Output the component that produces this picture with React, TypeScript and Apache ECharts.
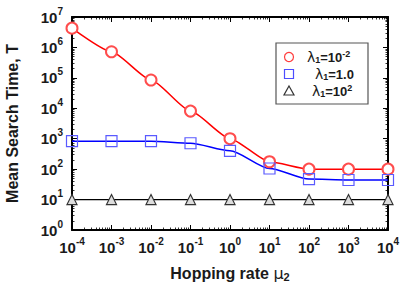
import React, { useEffect, useRef } from "react";
import * as echarts from "echarts";

const hoppingRates = [1e-4, 1e-3, 1e-2, 1e-1, 1e0, 1e1, 1e2, 1e3, 1e4];
const timeLambdaSmall = [4.3e6, 7.2e5, 8.5e4, 8.1e3, 1000, 175, 100, 100, 100];
const timeLambdaOne = [830, 830, 830, 710, 400, 105, 47, 44, 44];
const timeLambdaLarge = [10, 10, 10, 10, 10, 10, 10, 10, 10];
const xTickExponents = [-4, -3, -2, -1, 0, 1, 2, 3, 4];
const yTickExponents = [0, 1, 2, 3, 4, 5, 6, 7];

const FONT = "Liberation Sans, Arial, sans-serif";
const TXT = "#1a1a1a";

function pow10Label(v: number) {
  const e = Math.round(Math.log10(v));
  return `{b|10}{s|${e}}`;
}

const tickRich = {
  b: { fontSize: 15, fontWeight: "bold", fontFamily: FONT, color: TXT, lineHeight: 22, verticalAlign: "middle" },
  s: { fontSize: 10, fontWeight: "bold", fontFamily: FONT, color: TXT, lineHeight: 22, verticalAlign: "top" },
};

export default function App() {
  const ref = useRef<HTMLDivElement>(null);
  useEffect(() => {
    if (!ref.current) return;
    const chart = echarts.init(ref.current, undefined, { renderer: "svg" });
    const xMin = Math.pow(10, xTickExponents[0]);
    const xMax = Math.pow(10, xTickExponents[xTickExponents.length - 1]);
    const yMin = Math.pow(10, yTickExponents[0]);
    const yMax = Math.pow(10, yTickExponents[yTickExponents.length - 1]);
    const pairs = (ys: number[]) => hoppingRates.map((x, i) => [x, ys[i]]);

    const axisCommon = {
      axisLine: { show: true, onZero: false, lineStyle: { color: "#000", width: 2 } },
      axisTick: { show: true, inside: true, length: 5, lineStyle: { color: "#000", width: 1 } },
      minorTick: { show: true, splitNumber: 9, length: 2.5, lineStyle: { color: "#000", width: 0.8 } },
      splitLine: { show: false },
      minorSplitLine: { show: false },
    };

    const legendItems = [
      { y: 57, symbol: "circle", color: "#ff3b3b", textX: 307, rich: "{l|λ}{sub|1}{t|=10}{sup|-2}" },
      { y: 74, symbol: "rect", color: "#4d4dff", textX: 315, rich: "{l|λ}{sub|1}{t|=1.0}" },
      { y: 91, symbol: "triangle", color: "#333", textX: 312, rich: "{l|λ}{sub|1}{t|=10}{sup|2}" },
    ];
    const legendRich = {
      l: { fontSize: 14, fontFamily: "DejaVu Sans, sans-serif", color: TXT, lineHeight: 15, verticalAlign: "middle" },
      sub: { fontSize: 9, fontWeight: "bold", fontFamily: FONT, color: TXT, lineHeight: 15, verticalAlign: "bottom" },
      t: { fontSize: 13, fontWeight: "bold", fontFamily: FONT, color: TXT, lineHeight: 15, verticalAlign: "middle" },
      sup: { fontSize: 9, fontWeight: "bold", fontFamily: FONT, color: TXT, lineHeight: 15, verticalAlign: "top" },
    };
    const legendGraphics: any[] = [
      { type: "rect", shape: { x: 276, y: 43, width: 92, height: 61 }, style: { fill: "#fff", stroke: "#555", lineWidth: 1.2 }, z: 100 },
    ];
    legendItems.forEach((it) => {
      if (it.symbol === "circle") {
        legendGraphics.push({ type: "circle", shape: { cx: 289, cy: it.y, r: 4.5 }, style: { fill: "none", stroke: it.color, lineWidth: 1.2 }, z: 101 });
      } else if (it.symbol === "rect") {
        legendGraphics.push({ type: "rect", shape: { x: 284.5, y: it.y - 4.5, width: 9, height: 9 }, style: { fill: "none", stroke: it.color, lineWidth: 1.2 }, z: 101 });
      } else {
        legendGraphics.push({ type: "polygon", shape: { points: [[289, it.y - 5], [294, it.y + 4], [284, it.y + 4]] }, style: { fill: "none", stroke: it.color, lineWidth: 1.2 }, z: 101 });
      }
      legendGraphics.push({
        type: "text",
        x: it.textX,
        y: it.y,
        z: 101,
        style: { text: it.rich, rich: legendRich, verticalAlign: "middle", align: "left", fill: TXT },
      });
    });

    chart.setOption({
      animation: false,
      backgroundColor: "#fff",
      grid: { left: 72, right: 21, top: 17, bottom: 56, containLabel: false, outerBoundsMode: "none" },
      xAxis: [
        {
          type: "log",
          min: xMin,
          max: xMax,
          logBase: 10,
          position: "bottom",
          ...axisCommon,
          axisLabel: { formatter: pow10Label, rich: tickRich, margin: 6 },
          name: "{n|Hopping rate }{m|μ}{sub|2}",
          nameLocation: "middle",
          nameGap: 34,
          nameTextStyle: {
            rich: {
              n: { fontSize: 16, fontWeight: "bold", fontFamily: FONT, color: TXT, lineHeight: 18, verticalAlign: "middle" },
              m: { fontSize: 16, fontFamily: "DejaVu Sans, sans-serif", color: TXT, lineHeight: 18, verticalAlign: "middle" },
              sub: { fontSize: 11, fontWeight: "bold", fontFamily: FONT, color: TXT, lineHeight: 18, verticalAlign: "bottom" },
            },
          },
        },
        {
          type: "log",
          min: xMin,
          max: xMax,
          logBase: 10,
          position: "top",
          ...axisCommon,
          axisLabel: { show: false },
        },
      ],
      yAxis: [
        {
          type: "log",
          min: yMin,
          max: yMax,
          logBase: 10,
          position: "left",
          ...axisCommon,
          axisLabel: { formatter: pow10Label, rich: tickRich, margin: 9 },
          name: "Mean Search Time, T",
          nameLocation: "middle",
          nameGap: 52,
          nameTextStyle: { fontSize: 16, fontWeight: "bold", fontFamily: FONT, color: TXT },
        },
        {
          type: "log",
          min: yMin,
          max: yMax,
          logBase: 10,
          position: "right",
          ...axisCommon,
          axisLabel: { show: false },
        },
      ],
      series: [
        {
          name: "λ1=10^-2",
          type: "line",
          data: pairs(timeLambdaSmall),
          smooth: 0.2,
          smoothMonotone: "x",
          symbol: "emptyCircle",
          symbolSize: 11,
          lineStyle: { color: "#ff0000", width: 1.5 },
          itemStyle: { color: "#ff4d4d", borderColor: "#ff4d4d", borderWidth: 1.2 },
          z: 3,
        },
        {
          name: "λ1=1.0",
          type: "line",
          data: pairs(timeLambdaOne),
          smooth: 0.25,
          smoothMonotone: "x",
          symbol: "rect",
          symbolSize: 11,
          lineStyle: { color: "#0000ff", width: 1.5 },
          itemStyle: { color: "rgba(0,0,0,0)", borderColor: "#5a5aff", borderWidth: 1.2 },
          z: 3,
        },
        {
          name: "λ1=10^2",
          type: "line",
          data: pairs(timeLambdaLarge),
          symbol: "triangle",
          symbolSize: 10,
          lineStyle: { color: "#000", width: 1.2 },
          itemStyle: { color: "#ddd", borderColor: "#333", borderWidth: 1.2 },
          z: 3,
        },
      ],
      graphic: legendGraphics,
    });
    return () => chart.dispose();
  }, []);
  return <div ref={ref} style={{ width: 409, height: 286, position: "absolute", left: 0, top: 0 }} />;
}
